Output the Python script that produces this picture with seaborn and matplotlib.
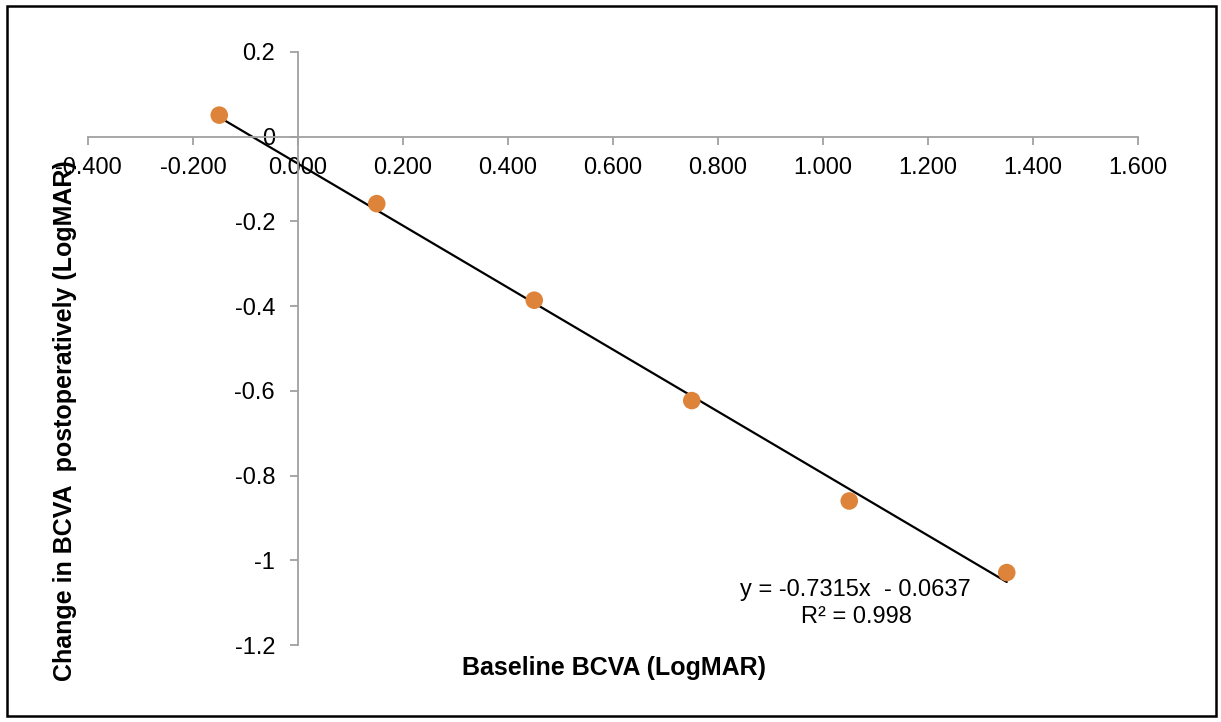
import numpy as np
import pandas as pd
import seaborn as sns
import matplotlib
matplotlib.use('Agg')
import matplotlib.pyplot as plt
from matplotlib.patches import Rectangle
from matplotlib.ticker import FuncFormatter

# data
baseline_bcva = [-0.15, 0.15, 0.45, 0.75, 1.05, 1.35]
change_bcva = [0.051, -0.158, -0.386, -0.623, -0.860, -1.029]
slope = -0.7315
intercept = -0.0637
r_squared = 0.998

x_ticks = [-0.4, -0.2, 0.0, 0.2, 0.4, 0.6, 0.8, 1.0, 1.2, 1.4, 1.6]
y_ticks = [0.2, 0.0, -0.2, -0.4, -0.6, -0.8, -1.0, -1.2]

df = pd.DataFrame({'x': baseline_bcva, 'y': change_bcva})
trend_x = [min(baseline_bcva), max(baseline_bcva)]
trend = pd.DataFrame({'x': trend_x, 'y': [slope * v + intercept for v in trend_x]})

sns.set_style('white')
plt.rcParams['font.family'] = ['Liberation Sans', 'DejaVu Sans']
plt.rcParams['text.color'] = 'black'
plt.rcParams['axes.labelcolor'] = 'black'
plt.rcParams['xtick.labelcolor'] = 'black'
plt.rcParams['ytick.labelcolor'] = 'black'

axis_grey = '#a0a0a0'

fig = plt.figure(figsize=(12.21, 7.22), dpi=100)
ax = fig.add_axes([88 / 1221, 1 - 645 / 722, 1050 / 1221, 593 / 722])

sns.lineplot(data=trend, x='x', y='y', color='black', linewidth=1.6, ax=ax, zorder=2)
sns.scatterplot(data=df, x='x', y='y', color='#de843a', s=160, edgecolor='none', ax=ax, zorder=3)

ax.set_xlim(-0.4, 1.6)
ax.set_ylim(-1.2, 0.2)
ax.set_xticks(x_ticks)
ax.set_yticks(y_ticks)
ax.xaxis.set_major_formatter(FuncFormatter(lambda v, p: f'{v:.3f}'))
ax.yaxis.set_major_formatter(FuncFormatter(lambda v, p: f'{v:g}' if abs(v) > 1e-9 else '0'))

ax.spines['left'].set_position(('data', 0))
ax.spines['bottom'].set_position(('data', 0))
ax.spines['top'].set_visible(False)
ax.spines['right'].set_visible(False)
for side in ['left', 'bottom']:
    ax.spines[side].set_color(axis_grey)
    ax.spines[side].set_linewidth(1.3)

ax.tick_params(axis='x', direction='out', length=5.5, width=1.3, color=axis_grey,
               labelsize=17, pad=9, bottom=True)
ax.tick_params(axis='y', direction='out', length=5.5, width=1.3, color=axis_grey,
               labelsize=17, pad=11, left=True)

ax.set_xlabel('Baseline BCVA (LogMAR)', fontsize=18, fontweight='bold')
ax.set_ylabel('Change in BCVA  postoperatively (LogMAR)', fontsize=18, fontweight='bold')
ax.xaxis.set_label_coords(0.501, -0.039)
ax.xaxis.label.set_va('center')
ax.yaxis.set_label_coords(-0.022, 0.378)
ax.yaxis.label.set_va('center')

ax.text(0.731, 0.093, f'y = {slope}x  - {abs(intercept)}', transform=ax.transAxes,
        ha='center', va='center', fontsize=17)
ax.text(0.732, 0.047, f'R² = {r_squared}', transform=ax.transAxes,
        ha='center', va='center', fontsize=17)

fig.patches.append(Rectangle((7 / 1221, 6 / 722), 1209 / 1221, 710 / 722,
                             transform=fig.transFigure, fill=False,
                             edgecolor='black', linewidth=1.8))

fig.savefig('out.png', dpi=100)
